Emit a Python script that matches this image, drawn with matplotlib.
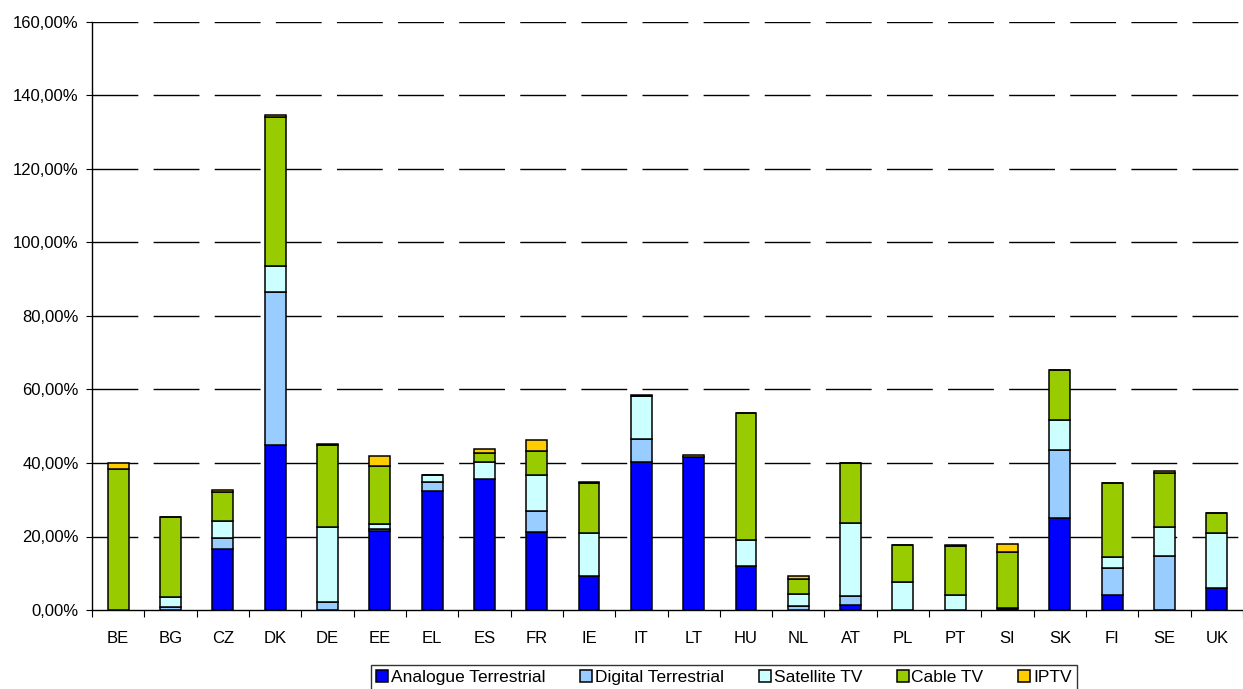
import numpy as np
import matplotlib
matplotlib.use("Agg")
import matplotlib.pyplot as plt
from matplotlib.ticker import FuncFormatter, MultipleLocator

plt.rcParams['font.family'] = ['Liberation Sans', 'DejaVu Sans']

countries = ["BE", "BG", "CZ", "DK", "DE", "EE", "EL", "ES", "FR", "IE", "IT",
             "LT", "HU", "NL", "AT", "PL", "PT", "SI", "SK", "FI", "SE", "UK"]

analogue = [0, 0, 16.5, 45.0, 0, 21.6, 32.5, 35.7, 21.2, 9.2, 40.2,
            41.5, 12.0, 0, 1.4, 0, 0, 0.5, 24.9, 4.2, 0, 6.0]
digital = [0, 0.7, 3.0, 41.5, 2.2, 0.4, 2.3, 0, 5.7, 0, 6.4,
           0, 0, 1.1, 2.4, 0, 0, 0, 18.6, 7.2, 14.8, 0]
satellite = [0, 2.9, 4.8, 7.2, 20.3, 1.5, 1.8, 4.5, 9.9, 11.8, 11.6,
             0, 7.1, 3.2, 20.0, 7.5, 4.0, 0, 8.3, 3.1, 7.9, 14.9]
cable = [38.3, 21.6, 7.9, 40.5, 22.3, 15.8, 0, 2.5, 6.4, 13.5, 0,
         0, 34.5, 4.2, 16.1, 10.3, 13.5, 15.3, 13.6, 20.1, 14.6, 5.6]
iptv = [1.8, 0, 0.4, 0.4, 0.4, 2.7, 0, 1.1, 3.0, 0.3, 0.4,
        0.6, 0, 0.8, 0, 0, 0.2, 2.2, 0, 0, 0.5, 0]

series_names = ["Analogue Terrestrial", "Digital Terrestrial", "Satellite TV", "Cable TV", "IPTV"]
series_values = [analogue, digital, satellite, cable, iptv]
colors = ["#0000FF", "#99CCFF", "#CCFFFF", "#99CC00", "#FFCC00"]

fig = plt.figure(figsize=(12.43, 6.89), dpi=100)
ax = fig.add_axes([92 / 1243, 79 / 689, 1 - 92 / 1243, (610 - 22) / 689])

x = np.arange(len(countries))
bottom = np.zeros(len(countries))
handles = []
for name, vals, c in zip(series_names, series_values, colors):
    v = np.array(vals, dtype=float)
    h = ax.bar(x, v, width=0.4, bottom=bottom, color=c, edgecolor="black",
               linewidth=1.1, label=name, zorder=3)
    handles.append(h)
    bottom += v

ax.set_xlim(-0.5, len(countries) - 0.5)
ax.set_ylim(0, 160)
ax.yaxis.set_major_locator(MultipleLocator(20))
ax.yaxis.set_major_formatter(FuncFormatter(lambda v, p: f"{v:.2f}%".replace(".", ",")))
ax.set_xticks(x)
ax.set_xticklabels(countries)
ax.set_xticks(np.arange(len(countries) + 1) - 0.5, minor=True)
ax.tick_params(axis="x", which="major", length=0, pad=15, labelsize=12)
ax.tick_params(axis="x", which="minor", length=5, direction="out", width=0.8)
ax.tick_params(axis="y", length=4.5, direction="out", width=0.8, labelsize=12, pad=5)

for yv in range(20, 161, 20):
    ax.axhline(yv, color="black", linewidth=1.0, linestyle=(0, (33, 11)), zorder=1)

for s in ["top", "right"]:
    ax.spines[s].set_visible(False)
for s in ["left", "bottom"]:
    ax.spines[s].set_color("black")
    ax.spines[s].set_linewidth(1.0)

leg = fig.legend(handles=handles, labels=series_names, loc="upper center",
                 bbox_to_anchor=(724 / 1243, 24 / 689), ncol=5, fontsize=12.5,
                 frameon=True, fancybox=False, edgecolor="black",
                 handlelength=0.7, handleheight=0.7, handletextpad=0.15,
                 columnspacing=2.0, borderpad=0.3, borderaxespad=0)
leg.get_frame().set_linewidth(1.0)

fig.savefig("out.png", dpi=100)
